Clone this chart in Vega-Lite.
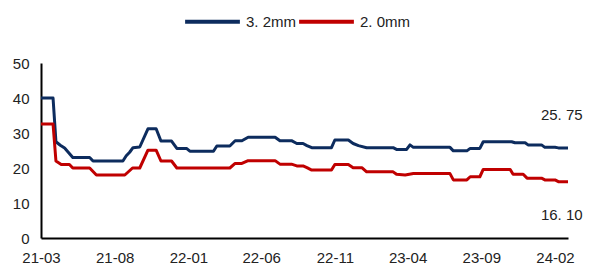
{
  "$schema": "https://vega.github.io/schema/vega-lite/v6.json",
  "autosize": "none",
  "width": 527,
  "height": 175,
  "padding": {"left": 41, "top": 63, "right": 21, "bottom": 33},
  "background": "white",
  "config": {
    "view": {"stroke": null},
    "font": "Liberation Sans"
  },
  "datasets": {
    "prices": [
      {"date": "2021-03-01", "series": "3. 2mm", "value": 40},
      {"date": "2021-03-26", "series": "3. 2mm", "value": 40},
      {"date": "2021-04-01", "series": "3. 2mm", "value": 27.5},
      {"date": "2021-04-10", "series": "3. 2mm", "value": 26.5},
      {"date": "2021-04-19", "series": "3. 2mm", "value": 25.7},
      {"date": "2021-05-06", "series": "3. 2mm", "value": 23},
      {"date": "2021-06-10", "series": "3. 2mm", "value": 23},
      {"date": "2021-06-17", "series": "3. 2mm", "value": 22},
      {"date": "2021-08-18", "series": "3. 2mm", "value": 22},
      {"date": "2021-08-25", "series": "3. 2mm", "value": 23.5},
      {"date": "2021-09-01", "series": "3. 2mm", "value": 24.5},
      {"date": "2021-09-08", "series": "3. 2mm", "value": 25.8},
      {"date": "2021-09-22", "series": "3. 2mm", "value": 26},
      {"date": "2021-10-09", "series": "3. 2mm", "value": 31.2},
      {"date": "2021-10-26", "series": "3. 2mm", "value": 31.2},
      {"date": "2021-11-05", "series": "3. 2mm", "value": 27.7},
      {"date": "2021-11-27", "series": "3. 2mm", "value": 27.7},
      {"date": "2021-12-08", "series": "3. 2mm", "value": 25.6},
      {"date": "2021-12-28", "series": "3. 2mm", "value": 25.6},
      {"date": "2022-01-04", "series": "3. 2mm", "value": 24.8},
      {"date": "2022-02-22", "series": "3. 2mm", "value": 24.8},
      {"date": "2022-03-01", "series": "3. 2mm", "value": 26.3},
      {"date": "2022-03-28", "series": "3. 2mm", "value": 26.3},
      {"date": "2022-04-08", "series": "3. 2mm", "value": 27.8},
      {"date": "2022-04-22", "series": "3. 2mm", "value": 27.8},
      {"date": "2022-05-05", "series": "3. 2mm", "value": 28.8},
      {"date": "2022-06-30", "series": "3. 2mm", "value": 28.8},
      {"date": "2022-07-10", "series": "3. 2mm", "value": 27.8},
      {"date": "2022-08-03", "series": "3. 2mm", "value": 27.8},
      {"date": "2022-08-14", "series": "3. 2mm", "value": 27.0},
      {"date": "2022-08-27", "series": "3. 2mm", "value": 27.0},
      {"date": "2022-09-04", "series": "3. 2mm", "value": 26.4},
      {"date": "2022-09-14", "series": "3. 2mm", "value": 25.8},
      {"date": "2022-10-25", "series": "3. 2mm", "value": 25.8},
      {"date": "2022-11-01", "series": "3. 2mm", "value": 28},
      {"date": "2022-11-29", "series": "3. 2mm", "value": 28},
      {"date": "2022-12-09", "series": "3. 2mm", "value": 27},
      {"date": "2022-12-20", "series": "3. 2mm", "value": 26.4},
      {"date": "2023-01-06", "series": "3. 2mm", "value": 25.8},
      {"date": "2023-03-02", "series": "3. 2mm", "value": 25.8},
      {"date": "2023-03-09", "series": "3. 2mm", "value": 25.3},
      {"date": "2023-03-30", "series": "3. 2mm", "value": 25.3},
      {"date": "2023-04-06", "series": "3. 2mm", "value": 26.6},
      {"date": "2023-04-13", "series": "3. 2mm", "value": 25.9},
      {"date": "2023-06-28", "series": "3. 2mm", "value": 25.9},
      {"date": "2023-07-05", "series": "3. 2mm", "value": 24.9},
      {"date": "2023-08-02", "series": "3. 2mm", "value": 24.9},
      {"date": "2023-08-09", "series": "3. 2mm", "value": 25.6},
      {"date": "2023-08-29", "series": "3. 2mm", "value": 25.6},
      {"date": "2023-09-05", "series": "3. 2mm", "value": 27.5},
      {"date": "2023-11-03", "series": "3. 2mm", "value": 27.5},
      {"date": "2023-11-10", "series": "3. 2mm", "value": 27.2},
      {"date": "2023-12-01", "series": "3. 2mm", "value": 27.2},
      {"date": "2023-12-07", "series": "3. 2mm", "value": 26.6},
      {"date": "2024-01-04", "series": "3. 2mm", "value": 26.6},
      {"date": "2024-01-11", "series": "3. 2mm", "value": 25.9},
      {"date": "2024-02-01", "series": "3. 2mm", "value": 25.9},
      {"date": "2024-02-08", "series": "3. 2mm", "value": 25.75},
      {"date": "2024-02-28", "series": "3. 2mm", "value": 25.75},
      {"date": "2021-03-01", "series": "2. 0mm", "value": 32.6},
      {"date": "2021-03-26", "series": "2. 0mm", "value": 32.6},
      {"date": "2021-04-01", "series": "2. 0mm", "value": 22},
      {"date": "2021-04-12", "series": "2. 0mm", "value": 21},
      {"date": "2021-04-29", "series": "2. 0mm", "value": 21},
      {"date": "2021-05-06", "series": "2. 0mm", "value": 20},
      {"date": "2021-06-10", "series": "2. 0mm", "value": 20},
      {"date": "2021-06-24", "series": "2. 0mm", "value": 18},
      {"date": "2021-08-22", "series": "2. 0mm", "value": 18},
      {"date": "2021-09-07", "series": "2. 0mm", "value": 20},
      {"date": "2021-09-22", "series": "2. 0mm", "value": 20},
      {"date": "2021-10-09", "series": "2. 0mm", "value": 25.1},
      {"date": "2021-10-26", "series": "2. 0mm", "value": 25.1},
      {"date": "2021-11-05", "series": "2. 0mm", "value": 22},
      {"date": "2021-11-27", "series": "2. 0mm", "value": 22},
      {"date": "2021-12-08", "series": "2. 0mm", "value": 20},
      {"date": "2022-03-28", "series": "2. 0mm", "value": 20},
      {"date": "2022-04-08", "series": "2. 0mm", "value": 21.3},
      {"date": "2022-04-22", "series": "2. 0mm", "value": 21.3},
      {"date": "2022-05-05", "series": "2. 0mm", "value": 22.1},
      {"date": "2022-06-30", "series": "2. 0mm", "value": 22.1},
      {"date": "2022-07-10", "series": "2. 0mm", "value": 21.1},
      {"date": "2022-08-03", "series": "2. 0mm", "value": 21.1},
      {"date": "2022-08-14", "series": "2. 0mm", "value": 20.6},
      {"date": "2022-08-27", "series": "2. 0mm", "value": 20.6},
      {"date": "2022-09-04", "series": "2. 0mm", "value": 20.1},
      {"date": "2022-09-14", "series": "2. 0mm", "value": 19.4},
      {"date": "2022-10-25", "series": "2. 0mm", "value": 19.4},
      {"date": "2022-11-01", "series": "2. 0mm", "value": 21},
      {"date": "2022-11-29", "series": "2. 0mm", "value": 21},
      {"date": "2022-12-09", "series": "2. 0mm", "value": 20.1},
      {"date": "2022-12-27", "series": "2. 0mm", "value": 20.1},
      {"date": "2023-01-06", "series": "2. 0mm", "value": 18.9},
      {"date": "2023-03-02", "series": "2. 0mm", "value": 18.9},
      {"date": "2023-03-09", "series": "2. 0mm", "value": 18.2},
      {"date": "2023-03-27", "series": "2. 0mm", "value": 18.0},
      {"date": "2023-04-13", "series": "2. 0mm", "value": 18.4},
      {"date": "2023-06-28", "series": "2. 0mm", "value": 18.4},
      {"date": "2023-07-05", "series": "2. 0mm", "value": 16.6},
      {"date": "2023-08-02", "series": "2. 0mm", "value": 16.6},
      {"date": "2023-08-09", "series": "2. 0mm", "value": 17.5},
      {"date": "2023-08-29", "series": "2. 0mm", "value": 17.5},
      {"date": "2023-09-05", "series": "2. 0mm", "value": 19.6},
      {"date": "2023-10-31", "series": "2. 0mm", "value": 19.6},
      {"date": "2023-11-06", "series": "2. 0mm", "value": 18.2},
      {"date": "2023-11-27", "series": "2. 0mm", "value": 18.2},
      {"date": "2023-12-05", "series": "2. 0mm", "value": 17.1},
      {"date": "2024-01-04", "series": "2. 0mm", "value": 17.1},
      {"date": "2024-01-11", "series": "2. 0mm", "value": 16.6},
      {"date": "2024-02-01", "series": "2. 0mm", "value": 16.6},
      {"date": "2024-02-08", "series": "2. 0mm", "value": 16.1},
      {"date": "2024-02-28", "series": "2. 0mm", "value": 16.1}
    ],
    "labels": [
      {"date": "2024-02-15", "value": 35.2, "label": "25. 75"},
      {"date": "2024-02-15", "value": 6.6, "label": "16. 10"}
    ]
  },
  "encoding": {
    "x": {
      "field": "date",
      "type": "temporal",
      "scale": {"domain": [{"year": 2021, "month": 3, "date": 1}, {"year": 2024, "month": 2, "date": 28}]},
      "axis": {
        "title": null,
        "values": [
          {"year": 2021, "month": 3, "date": 1},
          {"year": 2021, "month": 8, "date": 1},
          {"year": 2022, "month": 1, "date": 1},
          {"year": 2022, "month": 6, "date": 1},
          {"year": 2022, "month": 11, "date": 1},
          {"year": 2023, "month": 4, "date": 1},
          {"year": 2023, "month": 9, "date": 1},
          {"year": 2024, "month": 2, "date": 1}
        ],
        "format": "%y-%m",
        "grid": false,
        "ticks": false,
        "domainColor": "#000000",
        "domainWidth": 2,
        "labelFontSize": 15,
        "labelColor": "#222222",
        "labelPadding": 12,
        "labelFlush": false,
        "labelOverlap": false
      }
    },
    "y": {
      "field": "value",
      "type": "quantitative",
      "scale": {"domain": [0, 50], "nice": false},
      "axis": {
        "title": null,
        "values": [0, 10, 20, 30, 40, 50],
        "grid": false,
        "ticks": false,
        "domainColor": "#000000",
        "domainWidth": 2,
        "labelFontSize": 15,
        "labelColor": "#222222",
        "labelPadding": 12,
        "labelOverlap": false,
        "labelFlush": false
      }
    }
  },
  "layer": [
    {
      "data": {"name": "prices"},
      "mark": {"type": "line", "strokeWidth": 3, "strokeJoin": "round"},
      "encoding": {
        "color": {
          "field": "series",
          "type": "nominal",
          "sort": ["3. 2mm", "2. 0mm"],
          "scale": {"domain": ["3. 2mm", "2. 0mm"], "range": ["#0d2c5e", "#c00000"]},
          "legend": {
            "title": null,
            "orient": "none",
            "legendX": 142,
            "legendY": -71,
            "direction": "horizontal",
            "symbolType": "stroke",
            "symbolSize": 3000,
            "symbolStrokeWidth": 4,
            "labelFontSize": 15,
            "labelColor": "#222222",
            "labelOffset": 4,
            "columnPadding": -9
          }
        }
      }
    },
    {
      "data": {"name": "labels"},
      "mark": {"type": "text", "fontSize": 15, "color": "#222222", "align": "center", "baseline": "middle"},
      "encoding": {
        "text": {"field": "label"}
      }
    }
  ]
}
